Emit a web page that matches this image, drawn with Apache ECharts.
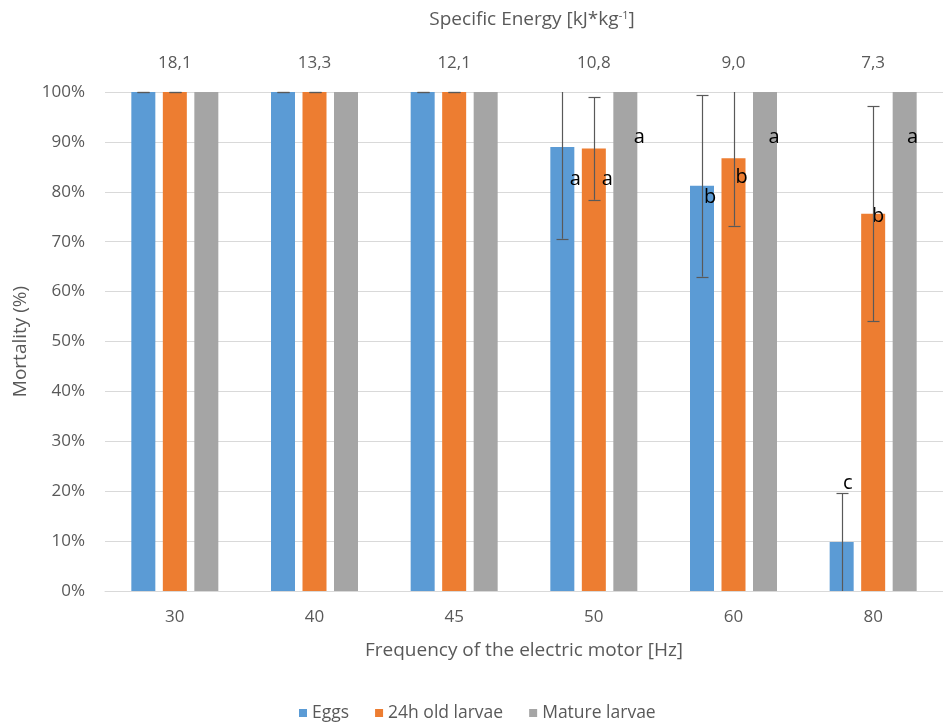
<!DOCTYPE html>
<html><head><meta charset="utf-8">
<script src="https://cdn.jsdelivr.net/npm/echarts@6/dist/echarts.min.js"></script>
<style>html,body{margin:0;padding:0;background:#fff}#c{width:943px;height:724px}</style>
</head><body><div id="c"></div>
<script>
// ---- data ----
const frequencies = ['30', '40', '45', '50', '60', '80'];
const specificEnergy = ['18,1', '13,3', '12,1', '10,8', '9,0', '7,3'];
const eggs = [100, 100, 100, 89.0, 81.2, 9.8];
const eggsErr = [0, 0, 0, 18.4, 18.2, 9.8];
const larvae24h = [100, 100, 100, 88.7, 86.7, 75.6];
const larvae24hErr = [0, 0, 0, 10.3, 13.5, 21.5];
const matureLarvae = [100, 100, 100, 100, 100, 100];
const eggsLetters = ['', '', '', 'a', 'b', 'c'];
const larvae24hLetters = ['', '', '', 'a', 'b', 'b'];
const matureLetters = ['', '', '', 'a', 'a', 'a'];

// ---- styling ----
const FONT = '"Open Sans", sans-serif';
const TXT = '#595959';
const BAR_W = 24, GAP = 7.5;
const COLORS = ['#5B9BD5', '#ED7D31', '#A5A5A5'];
// letter label positions relative to bar top-left (px)
const letterPos = [
  [null, null, null, [25, 32], [20, 11], [18, -59]],
  [null, null, null, [25.5, 31], [20, 19], [17, 3]],
  [null, null, null, [26, 45], [21, 45], [20, 45]]
];

function barSeries(name, vals, letters, idx) {
  return {
    type: 'bar', name: name, barWidth: BAR_W, barGap: (GAP / BAR_W * 100) + '%',
    itemStyle: { color: COLORS[idx] }, z: 2,
    data: vals.map(function (v, i) {
      const item = { value: v };
      if (letters[i]) {
        item.label = {
          show: true, formatter: letters[i], position: letterPos[idx][i],
          align: 'center', verticalAlign: 'middle',
          fontFamily: FONT, fontSize: 20, color: '#000'
        };
      }
      return item;
    })
  };
}

function errSeries(name, vals, errs, idx) {
  return {
    type: 'custom', name: name, z: 3, silent: true,
    data: vals.map(function (v, i) { return [i, v, errs[i]]; }),
    encode: { x: 0, y: 1 },
    renderItem: function (params, api) {
      const i = api.value(0), v = api.value(1), e = api.value(2);
      const off = (idx - 1) * (BAR_W + GAP);
      const hiV = v + e, loV = v - e;
      const hi = api.coord([i, Math.min(hiV, 100)]);
      const lo = api.coord([i, Math.max(loV, 0)]);
      const x = Math.round(hi[0] + off) + 0.5;
      const st = { stroke: '#595959', lineWidth: 1.2 };
      const ch = [{ type: 'line', shape: { x1: x, y1: hi[1], x2: x, y2: lo[1] }, style: st }];
      if (hiV <= 100.05) {
        const y = Math.round(hi[1]) + 0.5;
        ch.push({ type: 'line', shape: { x1: x - 6, y1: y, x2: x + 6, y2: y }, style: st });
      }
      if (loV >= 0.5) {
        const y = Math.round(lo[1]) + 0.5;
        ch.push({ type: 'line', shape: { x1: x - 6, y1: y, x2: x + 6, y2: y }, style: st });
      }
      return { type: 'group', children: ch };
    }
  };
}

const chart = echarts.init(document.getElementById('c'), null, { renderer: 'canvas' });
chart.setOption({
  animation: false,
  textStyle: { fontFamily: FONT },
  grid: { left: 105, top: 92, width: 840, height: 499, containLabel: false },
  legend: {
    data: ['Eggs', '24h old larvae', 'Mature larvae'],
    top: 699, left: 294, icon: 'rect', itemWidth: 8, itemHeight: 8, itemGap: 26,
    textStyle: { fontFamily: FONT, fontSize: 17.5, color: TXT }
  },
  xAxis: [
    {
      type: 'category', data: frequencies, position: 'bottom',
      axisLine: { lineStyle: { color: '#d9d9d9', width: 1 } },
      axisTick: { show: false },
      axisLabel: { fontFamily: FONT, fontSize: 17, color: TXT, margin: 18 },
      name: 'Frequency of the electric motor [Hz]', nameLocation: 'middle', nameGap: 50,
      nameTextStyle: { fontFamily: FONT, fontSize: 19, color: TXT }
    },
    {
      type: 'category', data: specificEnergy, position: 'top',
      axisLine: { show: false }, axisTick: { show: false }, splitLine: { show: false },
      axisLabel: { fontFamily: FONT, fontSize: 17, color: TXT, margin: 20 },
      name: 'Specific Energy [kJ*kg{sup|-1}]', nameLocation: 'middle', nameGap: 62,
      nameTextStyle: {
        fontFamily: FONT, fontSize: 19, color: TXT, padding: [0, 0, 0, 16],
        rich: { sup: { fontFamily: FONT, fontSize: 11, color: TXT, verticalAlign: 'top', padding: [0, 0, 9, 0] } }
      }
    }
  ],
  yAxis: {
    type: 'value', min: 0, max: 100, interval: 10,
    axisLine: { show: false }, axisTick: { show: false },
    splitLine: { lineStyle: { color: '#d9d9d9', width: 1 } },
    axisLabel: { formatter: '{value}%', fontFamily: FONT, fontSize: 17, color: TXT, margin: 20 },
    name: 'Mortality (%)', nameLocation: 'middle', nameGap: 75, nameRotate: 90,
    nameTextStyle: { fontFamily: FONT, fontSize: 19, color: TXT }
  },
  series: [
    barSeries('Eggs', eggs, eggsLetters, 0),
    barSeries('24h old larvae', larvae24h, larvae24hLetters, 1),
    barSeries('Mature larvae', matureLarvae, matureLetters, 2),
    errSeries('errEggs', eggs, eggsErr, 0),
    errSeries('errLarvae', larvae24h, larvae24hErr, 1)
  ]
});
</script>
</body></html>
